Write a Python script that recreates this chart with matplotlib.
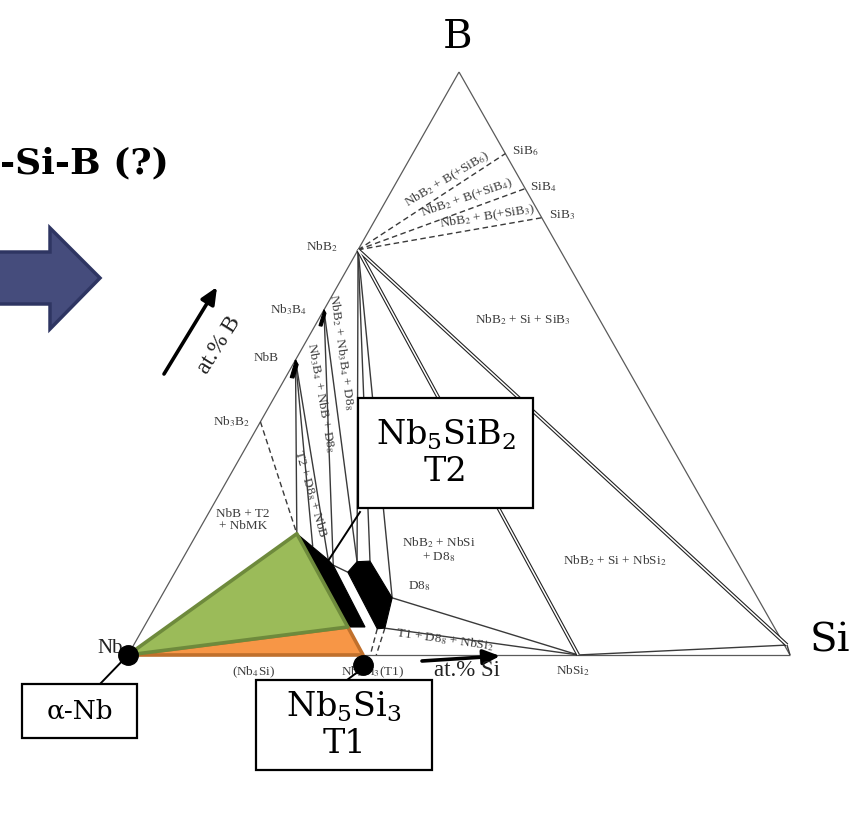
import numpy as np
import matplotlib
matplotlib.use("Agg")
import matplotlib.pyplot as plt
from matplotlib.patches import Polygon, Rectangle
from matplotlib.transforms import Affine2D

plt.rcParams['mathtext.fontset'] = 'stix'

# ---------------- data: phase compositions (at.% Si, at.% B) ----------------
Nb = (0, 0); Si = (100, 0); B = (0, 100)
NbB2 = (0, 69.5); Nb3B4 = (0, 59.2); NbB = (0, 50.6); Nb3B2 = (0, 40.0)
SiB6 = (14, 86); SiB4 = (20, 80); SiB3 = (25, 75)
NbSi2 = (68, 0); Si_ss = (98.7, 1.7)
T1a = (35.5, 0); T1b = (36.6, 0); T1c = (37.5, 0)
# T2 (Nb5SiB2) homogeneity field
T2_field = [(15.1, 20.8), (22.1, 16.3), (23.3, 15.4), (33.4, 4.8), (30.8, 4.8)]
T2top, T2a, T2b, T2c, T2d = T2_field
T2m = (18.6, 18.6)
# D8_8 homogeneity field
D8_field = [(26.1, 14.2), (26.6, 16.0), (28.5, 16.1), (35.0, 9.8), (36.5, 4.6), (35.4, 4.5)]
D8a, D8b, D8c, D8d, D8e, D8f = D8_field
NbB_field = [(0, 50.6), (0.8, 49.8), (1.3, 47.5), (0.7, 47.6)]
Nb3B4_field = [(0, 59.2), (0.6, 58.6), (1.1, 56.4), (0.6, 56.5)]

solid_ties = [(NbB, T2top), (NbB, T2m), (NbB, T2a), (Nb3B4, T2b), (Nb3B4, D8b),
              (NbB2, D8b), (NbB2, D8c), (NbB2, D8d), (D8d, NbSi2), (D8e, NbSi2),
              (T2b, D8a), (NbSi2, Si_ss), (Si_ss, Si)]
double_ties = [(NbB2, NbSi2), (NbB2, Si_ss)]
dashed_ties = [(Nb3B2, T2top), (NbB2, SiB6), (NbB2, SiB4), (NbB2, SiB3),
               (D8f, T1b), (D8e, T1c)]
alpha_region = [Nb, T2top, T2d]          # green
t1_region = [Nb, T2d, T1a]               # orange
T1_marker = (36.3, -1.7)

# ---------------- figure ----------------
W, H = 866, 822
fig = plt.figure(figsize=(W / 100, H / 100), dpi=100)
ax = fig.add_axes([0, 0, 1, 1])
ax.set_xlim(-19.34, 111.48)
ax.set_ylim(-28.65, 112.35)
ax.axis('off')
pix = Affine2D().scale(1 / W, -1 / H).translate(0, 1) + fig.transFigure


def tern(p):
    si, b = p
    return si + b / 2.0, b


def seg(p, q, **kw):
    x1, y1 = tern(p); x2, y2 = tern(q)
    ax.plot([x1, x2], [y1, y2], solid_capstyle='butt', **kw)


LC = '#3a3a3a'
# triangle frame
for p, q in [(Nb, Si), (Si, B), (B, Nb)]:
    seg(p, q, color='#5a5a5a', lw=0.9, zorder=2)

for p, q in solid_ties:
    seg(p, q, color=LC, lw=1.0, zorder=3)
for p, q in double_ties:
    seg(p, q, color='#222222', lw=2.7, zorder=3)
    seg(p, q, color='white', lw=1.1, zorder=3.1)
for p, q in dashed_ties:
    seg(p, q, color=LC, lw=1.0, ls=(0, (4, 2.5)), zorder=3)

for poly in (T2_field, D8_field, NbB_field, Nb3B4_field):
    ax.add_patch(Polygon([tern(p) for p in poly], closed=True, fc='black', ec='black',
                         lw=0.8, zorder=4))

ax.add_patch(Polygon([tern(p) for p in t1_region], closed=True, fc='#f79646',
                     ec='#c0702c', lw=2.6, zorder=5, joinstyle='round'))
ax.add_patch(Polygon([tern(p) for p in alpha_region], closed=True, fc='#9bbb59',
                     ec='#6e8a3c', lw=2.6, zorder=5.2, joinstyle='round'))

# ---------------- diagram labels ----------------
SF = 'Liberation Serif'
TC = '#3c3c3c'


def lab(px, py, s, fs=9.5, rot=0, ha='center', va='center', color=TC, **kw):
    ax.text(px, py, s, transform=pix, fontsize=fs, rotation=rot, ha=ha, va=va,
            family=SF, color=color, rotation_mode='anchor', zorder=7, **kw)


lab(322, 247, r"NbB$_2$")
lab(289, 310, r"Nb$_3$B$_4$")
lab(266, 358, "NbB")
lab(232, 422, r"Nb$_3$B$_2$")
lab(525, 151, r"SiB$_6$")
lab(543, 187, r"SiB$_4$")
lab(562, 215, r"SiB$_3$")
lab(447, 180, r"NbB$_2$ + B(+SiB$_6$)", rot=31)
lab(467, 198, r"NbB$_2$ + B(+SiB$_4$)", rot=19)
lab(487, 217, r"NbB$_2$ + B(+SiB$_3$)", rot=9)
lab(523, 320, r"NbB$_2$ + Si + SiB$_3$")
lab(341, 352, r"NbB$_2$ + Nb$_3$B$_4$ + D8$_8$", rot=-82)
lab(321, 398, r"Nb$_3$B$_4$ + NbB + D8$_8$", rot=-80)
lab(311, 494, r"T2 + D8$_8$ + NbB", rot=-74)
lab(243, 520, "NbB + T2\n+ NbMK", linespacing=1.0)
lab(439, 550, "NbB$_2$ + NbSi\n+ D8$_8$", linespacing=1.0)
lab(419, 586, r"D8$_8$")
lab(445, 640, r"T1 + D8$_8$ + NbSi$_2$", rot=-8)
lab(615, 561, r"NbB$_2$ + Si + NbSi$_2$")
lab(253, 672, r"(Nb$_4$Si)")
lab(373, 672, r"Nb$_5$Si$_3$(T1)")
lab(573, 671, r"NbSi$_2$")
lab(110, 648, "Nb", fs=15, color='#222222')

# axis arrows
ax.annotate("", xy=(217, 287), xytext=(164, 374), xycoords=pix, textcoords=pix,
            arrowprops=dict(arrowstyle='-|>,head_length=1.0,head_width=0.45',
                            color='black', lw=2.6, shrinkA=0, shrinkB=0), zorder=7)
lab(219, 345, "at.% B", fs=17, rot=58, color='#222222')
ax.annotate("", xy=(500, 656), xytext=(422, 661), xycoords=pix, textcoords=pix,
            arrowprops=dict(arrowstyle='-|>,head_length=1.0,head_width=0.45',
                            color='black', lw=2.6, shrinkA=0, shrinkB=0), zorder=7)
lab(467, 670, "at.% Si", fs=16.5, color='#222222')

# ---------------- overlay (slide) elements ----------------
CF = 'DejaVu Serif'
ax.text(458, 38, "B", transform=pix, fontsize=29, family=CF, ha='center', va='center', zorder=8)
ax.text(830, 641, "Si", transform=pix, fontsize=29, family=CF, ha='center', va='center', zorder=8)
ax.text(0, 163, "-Si-B (?)", transform=pix, fontsize=26, family=CF, weight='bold',
        ha='left', va='center', zorder=8)

arrow_px = [(-5, 252), (50, 252), (50, 228), (100, 278), (50, 329), (50, 304), (-5, 304)]
ax.add_patch(Polygon(arrow_px, closed=True, transform=pix, fc='#454c7c', ec='#2e3562',
                     lw=2.5, zorder=8))

# markers
ax.plot(*tern(Nb), 'o', color='black', ms=14, zorder=9)
ax.plot(*tern(T1_marker), 'o', color='black', ms=14, zorder=9)

# leader lines
ax.plot([328, 360], [561, 512], transform=pix, color='black', lw=1.4, zorder=9)
ax.plot([128, 100], [655, 684], transform=pix, color='black', lw=1.4, zorder=9)
ax.plot([367, 347], [665, 680], transform=pix, color='black', lw=1.4, zorder=9)


def box(x0, y0, x1, y1, s, fs):
    ax.add_patch(Rectangle((x0, y0), x1 - x0, y1 - y0, transform=pix, fc='white',
                           ec='black', lw=1.6, zorder=10))
    ax.text((x0 + x1) / 2, (y0 + y1) / 2, s, transform=pix, fontsize=fs, family=CF,
            math_fontfamily='dejavuserif', ha='center', va='center', linespacing=1.15,
            zorder=11)


box(358, 398, 533, 508, "Nb$_5$SiB$_2$\nT2", 24)
box(22, 684, 137, 738, "α-Nb", 19)
box(256, 680, 432, 770, "Nb$_5$Si$_3$\nT1", 24)

fig.savefig("out.png", dpi=100)
